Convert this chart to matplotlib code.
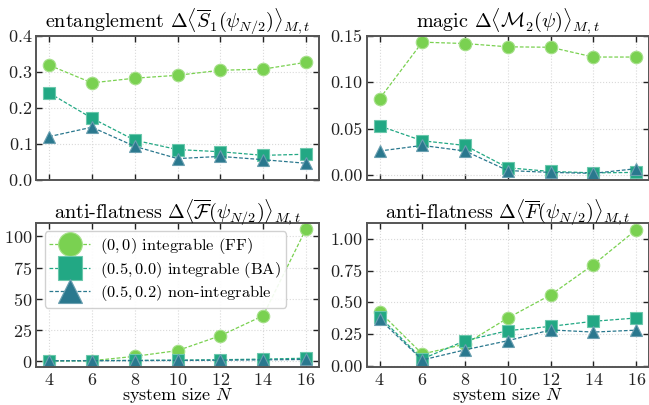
import numpy as np
from matplotlib import pyplot as plt

plt.rcParams['font.family'] = 'serif'
plt.rcParams['font.serif'] = ['cmr10', 'DejaVu Serif']
plt.rcParams['mathtext.fontset'] = 'cm'
plt.rcParams['axes.formatter.use_mathtext'] = True
plt.rcParams['axes.unicode_minus'] = False

N = [4, 6, 8, 10, 12, 14, 16]

labels = [r'$(0,0)$ integrable (FF)',
          r'$(0.5,0.0)$ integrable (BA)',
          r'$(0.5,0.2)$ non-integrable']

# entanglement
ent_ff = [0.318, 0.269, 0.282, 0.290, 0.304, 0.307, 0.326]
ent_ba = [0.241, 0.171, 0.110, 0.084, 0.078, 0.068, 0.071]
ent_ni = [0.120, 0.146, 0.093, 0.059, 0.065, 0.056, 0.046]

# magic
mag_ff = [0.082, 0.143, 0.1415, 0.138, 0.1375, 0.127, 0.127]
mag_ba = [0.053, 0.037, 0.032, 0.008, 0.004, 0.0025, 0.003]
mag_ni = [0.026, 0.032, 0.026, 0.005, 0.003, 0.002, 0.007]

# anti-flatness (calligraphic F)
afc_ff = [0.3, 0.5, 4.0, 8.6, 20.5, 36.5, 105.8]
afc_ba = [0.5, 0.6, 0.8, 1.0, 1.3, 1.8, 2.5]
afc_ni = [0.4, 0.5, 0.6, 0.7, 0.9, 1.2, 1.5]

# anti-flatness F
af_ff = [0.426, 0.092, 0.17, 0.376, 0.558, 0.797, 1.071]
af_ba = [0.387, 0.053, 0.197, 0.276, 0.31, 0.35, 0.376]
af_ni = [0.368, 0.045, 0.125, 0.197, 0.282, 0.265, 0.28]

colors = ['#7ad151', '#22a884', '#2a788e']
edges = ['#a6e08a', '#6cc8ac', '#6a9fb0']
markers = ['o', 's', '^']

titles = [r'entanglement $\Delta\langle\overline{S}_1(\psi_{N/2})\rangle_{M,t}$',
          r'magic $\Delta\langle\mathcal{M}_2(\psi)\rangle_{M,t}$',
          r'anti-flatness $\Delta\langle\overline{\mathcal{F}}(\psi_{N/2})\rangle_{M,t}$',
          r'anti-flatness $\Delta\langle\overline{F}(\psi_{N/2})\rangle_{M,t}$']

data = [(ent_ff, ent_ba, ent_ni), (mag_ff, mag_ba, mag_ni),
        (afc_ff, afc_ba, afc_ni), (af_ff, af_ba, af_ni)]

fig, axs = plt.subplots(2, 2, figsize=(6.49, 4.05), dpi=100, sharex=True)
fig.subplots_adjust(left=0.056, right=1.0, bottom=0.093, top=0.912, wspace=0.17, hspace=0.3)

for k, ax in enumerate(axs.flat):
    for series, c, ec, m, lab in zip(data[k], colors, edges, markers, labels):
        ax.plot(N, series, linestyle='--', dashes=(3, 1.5), color=c, lw=0.9,
                marker=m, markersize=9, markerfacecolor=c, markeredgecolor=ec,
                markeredgewidth=0.8, label=lab)
    ax.set_title(titles[k], fontsize=14.5, pad=3)
    ax.grid(color='0.85', linestyle=':', linewidth=0.8)
    ax.tick_params(direction='in', top=True, right=True, labelsize=13,
                   length=4, width=1, colors='#222222', pad=3)
    for sp in ax.spines.values():
        sp.set_linewidth(1.4)
        sp.set_color('#555555')
    ax.set_xlim(3.4, 16.6)
    ax.set_xticks(N)

axs[0, 0].set_ylim(0, 0.4)
axs[0, 0].set_yticks([0, 0.1, 0.2, 0.3, 0.4])
axs[0, 1].set_ylim(-0.005, 0.15)
axs[0, 1].set_yticks([0, 0.05, 0.10, 0.15])
axs[0, 1].set_yticklabels(['0.00', '0.05', '0.10', '0.15'])
axs[1, 0].set_ylim(-4.8, 110.7)
axs[1, 0].set_yticks([0, 25, 50, 75, 100])
axs[1, 1].set_ylim(-0.013, 1.124)
axs[1, 1].set_yticks([0, 0.25, 0.5, 0.75, 1.0])
axs[1, 1].set_yticklabels(['0.00', '0.25', '0.50', '0.75', '1.00'])

for ax in axs[1]:
    ax.set_xlabel(r'system size $N$', fontsize=13, labelpad=-1)

axs[1, 0].legend(loc='upper left', markerscale=1.9, fontsize=11.8, framealpha=0.9,
                 edgecolor='0.8', handlelength=2.5, borderpad=0.3, labelspacing=0.2,
                 handletextpad=0.6, bbox_to_anchor=(0.0, 1.0))

plt.savefig('out.png', dpi=100)
